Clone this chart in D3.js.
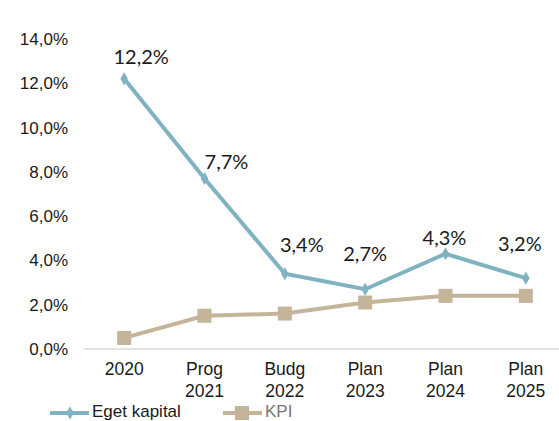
<!DOCTYPE html>
<html><head><meta charset="utf-8">
<script src="https://cdn.jsdelivr.net/npm/d3@7"></script>
<style>body{margin:0;background:#fff}svg{display:block}</style>
</head><body>
<svg id="c" width="559" height="421"></svg>
<script>
const categories = [["2020"],["Prog","2021"],["Budg","2022"],["Plan","2023"],["Plan","2024"],["Plan","2025"]];
const egetKapital = [12.2, 7.7, 3.4, 2.7, 4.3, 3.2];
const kpi = [0.5, 1.5, 1.6, 2.1, 2.4, 2.4];
const yTicks = [0, 2, 4, 6, 8, 10, 12, 14];
const seriesNames = ["Eget kapital", "KPI"];

const svg = d3.select("#c");
const fmt = v => d3.format(".1f")(v).replace(".", ",") + "%";
const x = d3.scaleBand().domain(d3.range(categories.length)).range([84, 566]);
const y = d3.scaleLinear().domain([0, 14]).range([349, 39]);
const cx = i => x(i) + x.bandwidth() / 2;
const blue = "#7fb3c1", tan = "#c4b49a";
const sans = "Liberation Sans, Arial, sans-serif";

// y-axis labels
const yAxis = d3.axisLeft(y).tickValues(yTicks).tickFormat(fmt).tickSize(0).tickPadding(0);
const ga = svg.append("g").attr("transform", "translate(68,0)").call(yAxis);
ga.select(".domain").remove();
ga.selectAll("text").attr("font-family", sans).attr("font-size", 17).attr("fill", "#1a1a1a");

// x baseline
svg.append("line").attr("x1", 84).attr("x2", 559).attr("y1", y(0)).attr("y2", y(0))
  .attr("stroke", "#d9d9d9").attr("stroke-width", 1.5);

// x labels
const xl = svg.append("g");
categories.forEach((c, i) => {
  const t = xl.append("text").attr("x", cx(i)).attr("text-anchor", "middle")
    .attr("font-family", sans).attr("font-size", 17.5).attr("fill", "#1a1a1a");
  c.forEach((s, j) => t.append("tspan").attr("x", cx(i)).attr("y", 375 + j * 22).text(s));
});

const line = d3.line().x((d, i) => cx(i)).y(d => y(d));
// KPI
svg.append("path").datum(kpi).attr("d", line).attr("fill", "none").attr("stroke", tan).attr("stroke-width", 4);
svg.selectAll(".sq").data(kpi).enter().append("rect")
  .attr("x", (d, i) => cx(i) - 7).attr("y", d => y(d) - 7).attr("width", 14).attr("height", 14).attr("fill", tan);
// Eget kapital
svg.append("path").datum(egetKapital).attr("d", line).attr("fill", "none").attr("stroke", blue).attr("stroke-width", 4);
const diamond = d3.symbol().type(d3.symbolDiamond).size(50);
svg.selectAll(".dm").data(egetKapital).enter().append("path")
  .attr("d", diamond).attr("transform", (d, i) => `translate(${cx(i)},${y(d)})`).attr("fill", blue);

// data labels (manual offsets, as in original)
const off = [[17, -15], [22, -10], [17, -22], [0, -28], [-1, -9], [-6, -27]];
svg.selectAll(".lb").data(egetKapital).enter().append("text")
  .attr("x", (d, i) => cx(i) + off[i][0]).attr("y", (d, i) => y(d) + off[i][1])
  .attr("text-anchor", "middle").attr("font-family", "Lato, Open Sans, sans-serif")
  .attr("font-size", 20).attr("fill", "#1a1a1a").text(d => fmt(d));

// legend
const lg = svg.append("g");
lg.append("line").attr("x1", 50).attr("x2", 89).attr("y1", 413).attr("y2", 413).attr("stroke", blue).attr("stroke-width", 4);
lg.append("path").attr("d", diamond).attr("transform", "translate(70,413)").attr("fill", blue);
lg.append("text").attr("x", 92).attr("y", 417).attr("font-family", sans)
  .attr("font-size", 17).attr("fill", "#1a1a1a").text(seriesNames[0]);
lg.append("line").attr("x1", 223).attr("x2", 262).attr("y1", 413).attr("y2", 413).attr("stroke", tan).attr("stroke-width", 4);
lg.append("rect").attr("x", 235).attr("y", 406).attr("width", 14).attr("height", 14).attr("fill", tan);
lg.append("text").attr("x", 265).attr("y", 417).attr("font-family", sans)
  .attr("font-size", 17).attr("fill", "#777").text(seriesNames[1]);
</script>
</body></html>
